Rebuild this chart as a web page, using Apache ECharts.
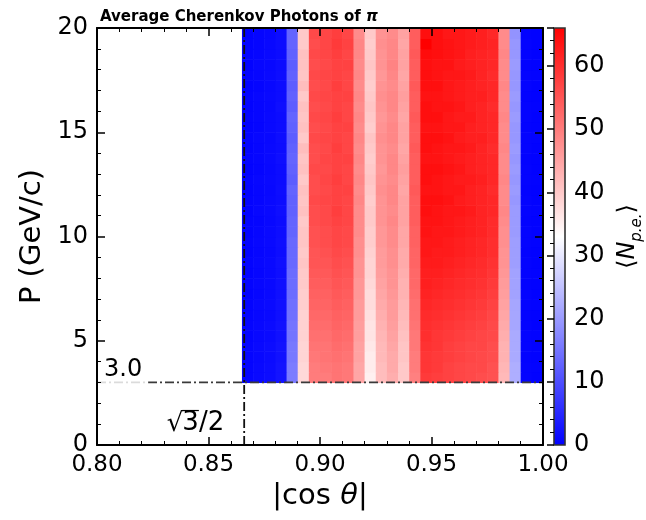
<!DOCTYPE html>
<html><head><meta charset="utf-8">
<script src="https://cdn.jsdelivr.net/npm/echarts@6/dist/echarts.min.js"></script>
<style>html,body{margin:0;padding:0;background:#fff}#c{width:646px;height:520px}</style>
</head><body><div id="c"></div>
<script>
// |cos theta| bin lower edges (bin width 0.005)
const cosBins = [0.865,0.870,0.875,0.880,0.885,0.890,0.895,0.900,0.905,0.910,0.915,0.920,0.925,0.930,0.935,0.940,0.945,0.950,0.955,0.960,0.965,0.970,0.975,0.980,0.985,0.990,0.995];
// momentum bin lower edges (bin height 0.5 GeV/c)
const pBins = [3.0,3.5,4.0,4.5,5.0,5.5,6.0,6.5,7.0,7.5,8.0,8.5,9.0,9.5,10.0,10.5,11.0,11.5,12.0,12.5,13.0,13.5,14.0,14.5,15.0,15.5,16.0,16.5,17.0,17.5,18.0,18.5,19.0,19.5];
const binW = 0.005, binH = 0.5;
// average number of photo-electrons; rows follow pBins (bottom to top), columns follow cosBins
const photons = [
[0.7,1.2,1.6,2.5,16,38,50,50,51,50.5,44.5,35,41.5,43.5,40,49.5,58.5,58,57.5,57,56.5,56,55.5,42,22.5,0.5,0.3],
[0.7,1.1,1.6,2.4,16,38,50,50.5,51,50.5,44.5,35.5,41.5,44,40,50,59,58.5,57.5,57,56.5,56.5,55.5,42.5,22.5,0.5,0.4],
[0.6,1.0,1.4,2.2,15.5,38.5,50.5,51,51.5,51,45,35.5,42,44,40.5,50,59,58.5,58,57.5,57,56.5,56,43,22,0.4,0.3],
[0.6,1.1,1.5,2.3,15.5,38.5,51,51,52,51.5,45,36,42,44.5,40.5,50.5,59.5,59,58,57.5,57,57,56,43,22,0.5,0.3],
[0.5,1.0,1.3,2.1,15,39,51.5,51.5,52.5,52,45.5,36.5,42.5,45,41,50.5,60,59,58.5,58,57.5,57,56.5,43.5,22,0.5,0.4],
[0.6,1.0,1.4,2.2,15,39,52,52,53,52.5,45.5,36.5,43,45.5,41.5,51,60,59.5,59,58.5,58,57.5,56.5,44,21.5,0.5,0.3],
[0.5,0.9,1.2,2.0,14.5,39,52.5,52.5,53.5,53,46,37,43.5,46,42,51.5,60.5,60,59.5,59,58.5,58,57,44.5,21.5,0.4,0.3],
[0.5,1.0,1.3,2.1,14.5,39.5,53,53,54,53.5,46,37.5,44,46,42.5,51.5,61,60.5,60,59.5,59,58.5,57.5,45,21.5,0.5,0.4],
[0.4,0.8,1.2,1.9,14,39.5,53.5,53.5,54.5,54,46.5,37.5,44.5,46.5,43,52,61.5,61,60.5,60,59.5,59,58,45.5,21,0.5,0.3],
[0.5,0.9,1.1,2.0,14,40,54,54,55,54.5,46.5,38,45,47,43,52.5,62,61.5,61,60.5,60,59.5,58.5,46,21,0.4,0.3],
[0.4,0.8,1.2,1.8,14,40,54.5,54.5,55.5,55,47,38.5,45.5,47,43.5,52.5,62,62,61.5,61,60.5,60,59,46.5,21,0.5,0.4],
[0.5,0.9,1.1,1.9,13.5,40.5,55,55,56,55.5,47,38.5,46,47.5,44,53,62.5,62.5,62,61.5,61,60.5,59.5,47,20.5,0.5,0.3],
[0.4,0.8,1.0,1.7,13.5,40,55,55.5,56.5,56,47.5,39,46,47.5,44,53,63,62.5,62.5,62,61.5,61,60,47,20.5,0.4,0.3],
[0.5,0.9,1.2,1.8,13.5,40.5,55.5,56,57,56.5,47.5,39.5,46.5,48,44.5,53.5,63,63,62.5,62,61.5,61,60,47.5,20.5,0.5,0.4],
[0.4,0.8,1.1,1.7,13,40.5,55.5,56,57,56.5,48,39.5,46.5,48,44.5,53.5,63.5,63,63,62.5,62,61.5,60.5,47.5,20,0.5,0.3],
[0.5,0.7,1.0,1.6,13,40,56,56.5,57.5,57,48,40,47,48.5,45,54,63.5,63.5,63,62.5,62,61.5,60.5,48,20,0.4,0.3],
[0.4,0.9,1.1,1.8,12.5,41,56,56.5,58,57,48,40,47,48,45,54,64,63.5,63,63,62.5,61.5,61,48.5,20,0.5,0.4],
[0.5,0.8,1.2,1.6,12.5,40.5,56.5,57,57.5,57,48.5,39.5,47,48.5,45,54,64,64,63.5,62.5,62,61.5,61,48,19.5,0.5,0.3],
[0.4,0.8,1.0,1.7,13,41,56,56.5,57.5,57.5,48,40,47.5,48.5,44.5,54.5,63.5,63.5,63,63,62,61.5,60.5,48,20,0.4,0.3],
[0.5,0.9,1.1,1.5,12,40,56,57,58,57,48.5,40.5,47,48,45,54,64,63.5,63,62.5,62.5,62,61,48.5,19.5,0.5,0.4],
[0.4,0.7,1.0,1.6,12.5,41,56.5,56.5,57.5,57,48,40,46.5,48.5,45.5,54,64,64,63.5,63,62,61.5,61,48,20,0.5,0.3],
[0.5,0.8,1.2,1.8,13,40.5,56,57,57.5,57.5,48.5,39.5,47,48.5,45,54,63.5,63.5,63,62.5,62,61.5,61,48,19.5,0.4,0.3],
[0.4,0.8,1.1,1.6,12.5,41.5,56,56.5,58,57,48,40,47,48,44.5,54.5,64,63.5,63,63,62.5,61.5,60.5,48.5,20,0.5,0.3],
[0.5,0.9,1.0,1.7,12,40,56.5,57,57.5,57,48.5,40.5,47.5,48.5,45,54,64,64,63.5,62.5,62,62,61,48,19.5,0.5,0.4],
[0.4,0.7,1.1,1.5,12.5,41,56,56.5,57.5,57.5,48,39.5,47,48.5,45,54,63.5,63.5,63,63,62,61.5,61,48,19.5,0.4,0.3],
[0.5,0.8,1.2,1.6,13,40.5,56.5,57,58,57,48.5,40,46.5,48,44.5,54.5,64,64,63,62.5,62.5,61.5,61,48.5,20,0.5,0.3],
[0.4,0.8,1.0,1.8,12,41,56,56.5,57.5,57,48,40.5,47,48.5,45,54,64,63.5,63.5,63,62,61.5,60.5,48,19.5,0.5,0.4],
[0.5,0.9,1.1,1.6,12.5,40,56.5,57,57.5,57.5,48.5,40,47.5,48.5,45.5,54,63.5,63.5,63,62.5,62,62,61,48,20,0.4,0.3],
[0.4,0.7,1.0,1.5,12,41.5,56,56.5,58,57,48,39.5,47,48,45,54.5,64,64,63,62.5,62,61.5,61,48.5,19.5,0.5,0.3],
[0.5,0.8,1.2,1.7,12.5,40.5,56.5,57,57.5,57,48.5,40,46.5,48.5,44.5,54,64,63.5,63,63,62.5,61.5,60.5,48,19.5,0.5,0.4],
[0.4,0.9,1.0,1.6,12,41,56,56.5,57.5,57.5,48,40.5,47,49,45,54,64,63.5,63.5,62.5,62,61.5,61,48,20,0.4,0.3],
[0.5,0.8,1.1,1.5,12.5,41,56.5,57,58,57,48.5,40,47,48.5,45,54.5,64.5,64,63.5,63,62,61.5,61,48.5,19.5,0.5,0.3],
[0.4,0.7,1.0,1.6,13,40,56,57,58.5,57.5,48.5,39.5,47.5,48.5,44.5,54,66,64,63.5,63,62.5,62,61.5,48,19.5,0.5,0.3],
[0.3,0.6,0.9,1.5,13,40,56.5,57,58,57,48,40,47,48,45,54,64,64,63,63,62.5,62,61,48,19,0.4,0.3]
];
// colour-bar range and ticks
const cbarRange = [0, 66];
const xTicks = { min: 0.80, max: 1.00, step: 0.05 };
const yTicks = { min: 0, max: 20, step: 5 };
// guide lines: |cos theta| = sqrt(3)/2 and P = 3.0 GeV/c
const cosCut = 0.866;
const pCut = 3.0;
const notes = [[0.80, 3.0, '3.0'], [0.866, 0, 'sqrt']];

const cells = [];
for (let r = 0; r < pBins.length; r++)
  for (let c = 0; c < cosBins.length; c++)
    cells.push([cosBins[c], pBins[r], photons[r][c]]);

const FF = 'DejaVu Sans';
const mctx = document.createElement('canvas').getContext('2d');
function tw(t, size, style) { mctx.font = (style || '') + ' ' + size + 'px "' + FF + '"'; return mctx.measureText(t).width; }

function renderCell(params, api) {
  const x0 = api.value(0), y0 = api.value(1);
  const a = api.coord([x0, y0 + binH]);
  const b = api.coord([x0 + binW, y0]);
  return { type: 'rect', shape: { x: a[0], y: a[1], width: b[0] - a[0] + 0.6, height: b[1] - a[1] + 0.6 },
           style: { fill: api.visual('color') } };
}
function renderBar(params, api) {
  const a = api.coord([0, api.value(1)]);
  const b = api.coord([1, api.value(0)]);
  return { type: 'rect', shape: { x: a[0], y: a[1], width: b[0] - a[0], height: b[1] - a[1] },
    style: { fill: new echarts.graphic.LinearGradient(0, 1, 0, 0, [
      { offset: 0, color: '#0000ff' }, { offset: 0.5, color: '#ffffff' }, { offset: 1, color: '#ff0000' }]),
      stroke: '#333', lineWidth: 1.6 } };
}
function renderNote(params, api) {
  const p = api.coord([api.value(0), api.value(1)]);
  if (params.dataIndex === 0) {
    return { type: 'text', x: p[0] + 1, y: p[1] + 3, style: { text: '3.0', font: '24px "' + FF + '"', fill: '#000',
      align: 'left', verticalAlign: 'bottom', backgroundColor: 'rgba(255,255,255,0.82)', padding: [4, 6, 4, 6] } };
  }
  const fs = 26, font = fs + 'px "' + FF + '"';
  const xr = p[0] - 20, yb = p[1] - 9;
  const w2 = tw('/2', fs), w3 = tw('3', fs);
  const topY = yb - fs * 0.98;
  return { type: 'group', children: [
    { type: 'text', x: xr, y: yb, style: { text: '/2', font: font, fill: '#000', align: 'right', verticalAlign: 'bottom' } },
    { type: 'text', x: xr - w2, y: yb, style: { text: '3', font: font, fill: '#000', align: 'right', verticalAlign: 'bottom' } },
    { type: 'text', x: xr - w2 - w3 + 1, y: yb + 1, style: { text: '√', font: font, fill: '#000', align: 'right', verticalAlign: 'bottom' } },
    { type: 'line', shape: { x1: xr - w2 - w3, y1: topY, x2: xr - w2, y2: topY }, style: { stroke: '#000', lineWidth: 1.2 } }
  ] };
}

const tickStyle = { color: '#000', width: 1.5 };
function mainAxis(extra) {
  return Object.assign({
    type: 'value', gridIndex: 0, z: 10, splitLine: { show: false },
    axisLine: { show: true, onZero: false, lineStyle: { color: '#000', width: 2 } },
    axisTick: { show: true, inside: true, length: 8, lineStyle: tickStyle },
    minorTick: { show: true, splitNumber: 5, length: 4, lineStyle: { color: '#000', width: 1 } }
  }, extra);
}

const chart = echarts.init(document.getElementById('c'), null, { renderer: 'canvas' });
chart.setOption({
  animation: false,
  backgroundColor: '#fff',
  textStyle: { fontFamily: FF },
  title: {
    text: 'Average Cherenkov Photons of {i|π}', left: 95, top: 5,
    textStyle: { fontFamily: FF, fontSize: 15, fontWeight: 'bold', color: '#000',
      rich: { i: { fontFamily: FF, fontSize: 15, fontWeight: 'bold', fontStyle: 'italic', color: '#000' } } }
  },
  grid: [
    { left: 97, top: 28, width: 446, height: 417 },
    { left: 554, top: 28, width: 22, height: 417 }
  ],
  xAxis: [
    mainAxis({ position: 'bottom', min: xTicks.min, max: xTicks.max, interval: xTicks.step,
      axisLabel: { formatter: v => v.toFixed(2), fontSize: 23, color: '#000', margin: 9, fontFamily: FF },
      name: '|cos {i|θ}|', nameLocation: 'middle', nameGap: 36,
      nameTextStyle: { fontSize: 29, color: '#000', fontFamily: FF,
        rich: { i: { fontSize: 29, fontStyle: 'italic', color: '#000', fontFamily: FF } } } }),
    mainAxis({ position: 'top', min: xTicks.min, max: xTicks.max, interval: xTicks.step, axisLabel: { show: false } }),
    { type: 'value', gridIndex: 1, min: 0, max: 1, show: false }
  ],
  yAxis: [
    mainAxis({ position: 'left', min: yTicks.min, max: yTicks.max, interval: yTicks.step,
      axisLabel: { fontSize: 24, color: '#000', margin: 9, fontFamily: FF },
      name: 'P (GeV/c)', nameLocation: 'middle', nameGap: 45, nameRotate: 90,
      nameTextStyle: { fontSize: 29, color: '#000', fontFamily: FF } }),
    mainAxis({ position: 'right', min: yTicks.min, max: yTicks.max, interval: yTicks.step, axisLabel: { show: false } }),
    { type: 'value', gridIndex: 1, position: 'right', min: cbarRange[0], max: cbarRange[1], interval: 10, z: 10,
      splitLine: { show: false }, axisLine: { show: false },
      axisTick: { show: true, inside: true, length: 7, lineStyle: tickStyle },
      minorTick: { show: true, splitNumber: 5, length: 4, lineStyle: { color: '#000', width: 1 } },
      axisLabel: { fontSize: 24, color: '#000', margin: 9, fontFamily: FF, formatter: v => (v % 10 === 0 ? String(v) : '') },
      name: '⟨{n|N}{s|p.e.}⟩', nameLocation: 'middle', nameGap: 46, nameRotate: 90,
      nameTextStyle: { fontSize: 24, color: '#000', fontFamily: FF, lineHeight: 34,
        rich: { n: { fontSize: 24, fontStyle: 'italic', color: '#000', fontFamily: FF, lineHeight: 34 },
                s: { fontSize: 15, fontStyle: 'italic', color: '#000', fontFamily: FF, lineHeight: 15, verticalAlign: 'bottom' } } } }
  ],
  visualMap: [{
    type: 'continuous', show: false, seriesIndex: 0, dimension: 2,
    min: cbarRange[0], max: cbarRange[1], inRange: { color: ['#0000ff', '#ffffff', '#ff0000'] }
  }],
  series: [
    { type: 'custom', xAxisIndex: 0, yAxisIndex: 0, renderItem: renderCell, data: cells, encode: { x: 0, y: 1 }, z: 2, silent: true },
    { type: 'custom', xAxisIndex: 2, yAxisIndex: 2, renderItem: renderBar, data: [[cbarRange[0], cbarRange[1]]], encode: { y: [0, 1] }, z: 2, silent: true },
    { type: 'line', xAxisIndex: 0, yAxisIndex: 0, data: [[cosCut, yTicks.min], [cosCut, yTicks.max]], symbol: 'none', z: 5,
      lineStyle: { color: '#111', width: 1.8, type: [9, 3, 2, 3] } },
    { type: 'line', xAxisIndex: 0, yAxisIndex: 0, data: [[xTicks.min, pCut], [xTicks.max, pCut]], symbol: 'none', z: 5,
      lineStyle: { color: '#3a3a3a', width: 1.8, type: [9, 3, 2, 3] } },
    { type: 'custom', xAxisIndex: 0, yAxisIndex: 0, renderItem: renderNote, data: notes, encode: { x: 0, y: 1 }, z: 6, silent: true }
  ]
});
</script></body></html>
